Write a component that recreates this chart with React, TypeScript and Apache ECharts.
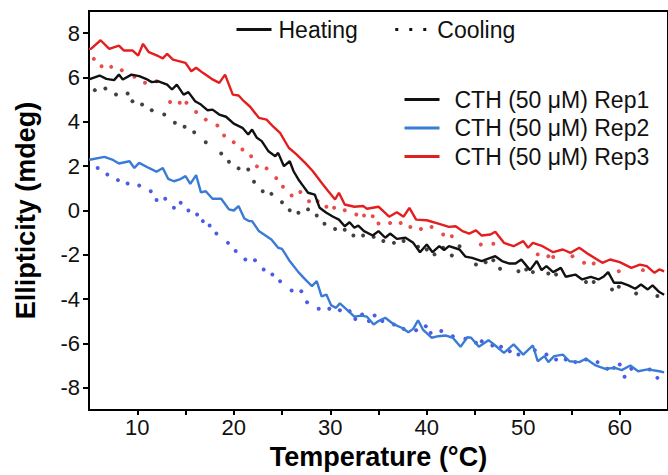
import React, { useEffect, useRef } from "react";
import * as echarts from "echarts";

// ---------- data ----------
const repNames = ["CTH (50 μM) Rep1", "CTH (50 μM) Rep2", "CTH (50 μM) Rep3"];
const styleNames = ["Heating", "Cooling"];

const xTickValues = [10, 15, 20, 25, 30, 35, 40, 45, 50, 55, 60];
const xLabelValues = [10, 20, 30, 40, 50, 60];
const yTickValues = [-8, -6, -4, -2, 0, 2, 4, 6, 8];

// Heating (solid lines), [temperature °C, ellipticity mdeg]
const rep1Heating: [number, number][] = [
  [5.0, 5.91], [6.1, 6.09], [6.8, 5.94], [7.6, 5.88], [8.1, 6.13], [8.5, 5.91], [9.4, 6.13], [10.2, 6.06],
  [10.9, 5.94], [11.5, 5.79], [12.2, 5.83], [13.1, 5.68], [13.6, 5.46], [14.1, 5.68], [14.8, 5.23], [15.3, 5.34],
  [16.0, 4.93], [16.6, 4.78], [17.3, 4.52], [17.8, 4.55], [18.5, 4.33], [19.2, 4.23], [20.0, 3.92], [20.9, 3.73],
  [21.5, 3.43], [21.9, 3.65], [22.4, 3.28], [22.9, 3.13], [23.6, 2.67], [24.3, 2.45], [24.6, 2.6], [25.2, 2.0],
  [25.8, 2.22], [26.2, 1.77], [26.7, 1.4], [27.2, 1.1], [27.7, 0.8], [28.4, 0.72], [28.9, 0.12], [29.6, -0.1],
  [30.3, -0.28], [30.9, -0.41], [31.5, -0.71], [32.0, -0.53], [32.5, -0.78], [32.9, -0.68], [33.5, -0.93],
  [34.4, -1.13], [35.0, -0.93], [35.7, -1.23], [36.2, -1.04], [36.9, -1.28], [37.8, -1.23], [38.6, -1.46],
  [39.3, -1.88], [40.0, -1.53], [40.6, -1.88], [41.3, -1.61], [41.8, -1.79], [42.3, -1.61], [43.4, -1.76],
  [44.0, -2.08], [44.7, -2.14], [45.7, -2.28], [46.3, -2.18], [47.1, -2.06], [47.8, -2.28], [48.5, -2.39],
  [49.2, -2.39], [49.8, -2.21], [50.7, -2.69], [51.4, -2.28], [51.9, -2.69], [52.4, -2.51], [53.1, -2.78],
  [53.9, -2.59], [54.4, -2.99], [55.4, -2.89], [56.1, -3.11], [57.0, -2.99], [57.8, -3.11], [58.3, -2.99],
  [58.8, -2.78], [59.4, -3.26], [60.2, -3.26], [60.9, -3.38], [61.6, -3.53], [62.2, -3.34], [62.9, -3.56],
  [63.4, -3.38], [64.1, -3.68], [64.6, -3.8],
];

const rep2Heating: [number, number][] = [
  [5.0, 2.3], [5.2, 2.3], [6.6, 2.42], [7.4, 2.3], [8.1, 2.12], [9.2, 2.22], [9.7, 1.92], [10.2, 2.15],
  [11.2, 1.92], [12.0, 1.75], [12.65, 1.92], [13.2, 1.43], [13.8, 1.32], [14.4, 1.4], [15.0, 1.55], [15.5, 1.2],
  [16.1, 1.6], [16.6, 0.82], [17.1, 0.87], [17.8, 0.53], [18.7, 0.53], [19.5, 0.05], [20.0, 0.0], [20.5, 0.2],
  [21.1, -0.36], [21.6, -0.48], [21.9, -0.48], [22.6, -0.93], [23.4, -1.16], [23.9, -1.31], [24.6, -1.68],
  [25.0, -1.73], [25.8, -2.28], [26.7, -2.78], [27.4, -3.11], [28.1, -3.41], [28.6, -3.19], [29.1, -3.87],
  [29.6, -3.79], [30.1, -4.28], [30.6, -4.39], [31.0, -4.19], [31.6, -4.43], [32.5, -4.79], [33.2, -4.74],
  [33.8, -4.79], [34.5, -5.14], [35.0, -4.99], [35.7, -4.84], [36.6, -5.14], [37.4, -5.29], [38.1, -5.49],
  [38.6, -5.34], [39.1, -4.95], [39.6, -5.37], [40.5, -5.74], [41.2, -5.67], [42.0, -5.64], [42.7, -5.74],
  [43.5, -6.15], [44.2, -5.72], [44.6, -5.74], [45.4, -6.15], [46.4, -5.85], [47.1, -6.09], [48.0, -6.42],
  [49.0, -6.04], [50.0, -6.5], [51.0, -6.09], [51.5, -6.8], [52.2, -6.57], [52.6, -6.84], [53.2, -6.57],
  [54.1, -6.5], [54.8, -6.8], [55.8, -6.84], [56.5, -6.69], [57.5, -6.99], [58.5, -7.14], [59.5, -7.1],
  [60.2, -7.2], [61.1, -6.99], [61.9, -7.25], [62.9, -7.17], [64.1, -7.25], [64.6, -7.3],
];

const rep3Heating: [number, number][] = [
  [5.0, 7.29], [5.2, 7.29], [6.2, 7.68], [7.1, 7.29], [8.1, 7.44], [8.6, 7.22], [9.5, 7.22], [10.1, 6.99],
  [10.6, 7.52], [11.2, 7.14], [12.2, 6.96], [12.65, 6.86], [13.1, 7.07], [13.7, 6.81], [14.4, 6.73], [15.0, 6.66],
  [15.6, 6.28], [16.1, 6.44], [16.8, 6.21], [17.7, 5.94], [18.5, 5.76], [19.1, 6.13], [19.9, 5.23], [20.5, 5.19],
  [21.05, 4.93], [21.7, 4.68], [22.6, 4.18], [23.4, 4.1], [24.1, 3.78], [24.8, 3.5], [25.7, 2.83], [26.5, 2.53],
  [27.4, 2.15], [28.2, 1.77], [29.1, 1.25], [29.8, 0.87], [30.5, 0.5], [30.9, 0.8], [31.5, 0.27], [32.5, 0.17],
  [33.4, 0.2], [33.8, 0.08], [35.0, 0.17], [36.1, -0.28], [36.9, -0.08], [37.6, -0.28], [38.2, 0.12],
  [38.9, -0.41], [40.0, -0.44], [41.2, -0.59], [42.3, -0.74], [43.0, -0.71], [43.7, -0.93], [44.4, -1.04],
  [45.1, -0.9], [45.7, -1.13], [46.6, -1.08], [47.1, -0.96], [48.0, -1.46], [49.0, -1.61], [50.0, -1.38],
  [50.5, -1.68], [51.0, -1.46], [52.0, -1.61], [53.1, -1.88], [54.1, -1.76], [54.9, -1.91], [55.8, -1.68],
  [56.8, -1.98], [58.2, -2.36], [59.0, -2.21], [60.0, -2.33], [61.2, -2.59], [62.1, -2.44], [62.8, -2.51],
  [63.6, -2.81], [64.1, -2.66], [64.6, -2.75],
];

// Cooling (dotted), [temperature °C, ellipticity mdeg]
const rep1Cooling: [number, number][] = [
  [5.6, 5.43], [6.7, 5.5], [7.8, 5.23], [9.0, 5.28], [9.5, 4.93], [10.5, 4.78], [11.5, 4.52], [12.8, 4.33],
  [13.9, 3.96], [14.9, 3.78], [15.9, 3.53], [17.1, 3.08], [18.7, 2.57], [19.5, 2.2], [20.5, 1.9], [21.5, 1.85],
  [22.1, 1.3], [23.0, 0.87], [23.9, 0.75], [25.0, 0.37], [25.8, 0.01], [26.7, -0.1], [27.7, 0.05], [28.6, -0.23],
  [29.4, -0.6], [30.5, -0.83], [31.5, -0.87], [32.4, -1.13], [33.4, -1.13], [34.5, -1.19], [35.5, -1.38],
  [36.6, -1.46], [37.6, -1.38], [39.1, -1.64], [40.0, -1.76], [40.8, -1.98], [41.7, -1.68], [42.6, -2.03],
  [43.4, -1.61], [45.1, -2.44], [46.1, -2.33], [46.9, -2.24], [47.6, -2.63], [49.5, -2.74], [50.3, -2.66],
  [51.0, -2.78], [52.6, -2.84], [53.4, -2.89], [56.5, -3.23], [57.3, -3.23], [59.2, -3.56], [59.9, -3.44],
  [61.7, -3.74], [63.9, -3.86],
];

const rep2Cooling: [number, number][] = [
  [5.9, 1.92], [6.9, 1.62], [8.0, 1.37], [9.0, 1.22], [10.2, 1.13], [11.4, 0.87], [12.0, 0.47], [12.9, 0.53],
  [13.8, 0.12], [14.5, 0.35], [15.3, 0.0], [16.2, -0.18], [16.8, -0.48], [17.5, -0.68], [18.2, -1.04],
  [19.4, -1.46], [20.2, -1.83], [21.2, -2.21], [22.2, -2.24], [23.1, -2.66], [24.0, -2.89], [24.8, -3.19],
  [26.0, -3.61], [27.0, -3.64], [27.6, -4.14], [28.8, -4.43], [29.9, -4.43], [31.0, -4.5], [32.0, -4.54],
  [32.6, -4.89], [33.3, -4.69], [34.0, -4.99], [34.6, -4.74], [35.4, -4.99], [36.6, -5.14], [37.6, -5.34],
  [38.9, -5.4], [39.9, -5.22], [40.4, -5.52], [41.5, -5.44], [42.7, -5.67], [44.0, -5.79], [45.1, -5.97],
  [45.7, -5.9], [46.8, -6.09], [47.7, -6.15], [48.6, -6.35], [49.5, -6.5], [51.2, -6.3], [52.4, -6.5],
  [53.4, -6.72], [54.4, -6.72], [55.4, -6.84], [56.5, -6.72], [57.7, -6.84], [58.7, -7.14], [59.4, -7.1],
  [60.0, -6.95], [60.5, -7.5], [61.2, -7.14], [63.1, -7.17], [63.9, -7.55],
];

const rep3Cooling: [number, number][] = [
  [5.5, 6.84], [6.3, 6.51], [7.3, 6.48], [8.4, 6.33], [9.7, 6.03], [10.8, 5.76], [12.0, 5.83], [13.4, 4.89],
  [14.4, 4.86], [15.1, 4.86], [16.1, 4.44], [17.1, 4.1], [18.3, 3.83], [19.0, 3.38], [20.0, 3.08], [20.9, 2.75],
  [21.8, 2.45], [22.4, 1.99], [23.4, 1.9], [24.4, 1.46], [25.1, 1.07], [26.0, 0.68], [26.9, 0.83], [27.8, 0.42],
  [28.7, 0.42], [29.6, 0.17], [30.4, 0.12], [31.5, 0.01], [32.7, -0.18], [33.5, -0.23], [34.4, -0.26],
  [35.0, -0.59], [36.2, -0.56], [37.3, -0.56], [38.3, -0.74], [39.4, -0.83], [40.5, -0.74], [41.7, -1.08],
  [42.6, -1.16], [45.6, -1.53], [46.9, -1.5], [51.5, -1.98], [52.6, -2.06], [53.1, -2.1], [55.1, -2.06],
  [56.3, -2.36], [57.3, -2.39], [59.9, -2.74], [62.4, -2.69],
];

const heatingColors = ["#111111", "#3a7bd5", "#e41e1e"];
const coolingColors = ["#111111", "#1e32e0", "#e41e1e"];

const FONT = "'Liberation Sans', Arial, Helvetica, sans-serif";

export default function App() {
  const ref = useRef<HTMLDivElement>(null);

  useEffect(() => {
    if (!ref.current) return;
    const chart = echarts.init(ref.current, undefined, { renderer: "svg" });
    const heating = [rep1Heating, rep2Heating, rep3Heating];
    const cooling = [rep1Cooling, rep2Cooling, rep3Cooling];

    const series: any[] = [
      {
        name: styleNames[0],
        type: "line",
        data: [],
        symbol: "none",
        itemStyle: { color: "#111" },
        lineStyle: { color: "#111", width: 3 },
      },
      {
        name: styleNames[1],
        type: "line",
        data: [],
        symbol: "none",
        itemStyle: { color: "#111" },
        lineStyle: { color: "#111", width: 3, type: [3, 11] },
      },
    ];
    cooling.forEach((d, i) => {
      series.push({
        name: repNames[i] + " cooling",
        type: "scatter",
        data: d,
        symbol: "circle",
        symbolSize: 4,
        itemStyle: { color: coolingColors[i] },
        z: 2,
      });
    });
    heating.forEach((d, i) => {
      series.push({
        name: repNames[i],
        type: "line",
        data: d,
        symbol: "none",
        showSymbol: false,
        itemStyle: { color: heatingColors[i] },
        lineStyle: { color: heatingColors[i], width: 2.4 },
        z: 3,
      });
    });

    chart.setOption({
      animation: false,
      backgroundColor: "#ffffff",
      textStyle: { fontFamily: FONT },
      grid: {
        left: 89,
        top: 11,
        width: 588,
        height: 400,
        show: true,
        borderColor: "#000",
        borderWidth: 2,
        backgroundColor: "transparent",
      },
      legend: [
        {
          data: styleNames,
          orient: "horizontal",
          left: 235,
          top: 18,
          padding: 0,
          itemWidth: 35,
          itemHeight: 14,
          itemGap: 36,
          selectedMode: false,
          itemStyle: { opacity: 0 },
          lineStyle: { width: 3 },
          textStyle: { fontSize: 23, color: "#111", fontFamily: FONT, padding: [0, 0, 0, 2] },
        },
        {
          data: repNames,
          orient: "vertical",
          left: 403,
          top: 88,
          padding: 0,
          itemWidth: 35,
          itemHeight: 14,
          itemGap: 5.5,
          selectedMode: false,
          itemStyle: { opacity: 0 },
          lineStyle: { width: 3 },
          textStyle: { fontSize: 23, color: "#111", fontFamily: FONT, padding: [0, 0, 0, 10] },
        },
      ],
      xAxis: {
        type: "value",
        min: 5,
        max: 65,
        interval: 5,
        name: "Temperature (°C)",
        nameLocation: "middle",
        nameGap: 33,
        nameTextStyle: { fontSize: 27, fontWeight: "bold", color: "#000", fontFamily: FONT },
        axisLine: { show: true, onZero: false, lineStyle: { color: "#000", width: 2 } },
        axisTick: { show: true, inside: false, length: 5, customValues: xTickValues, lineStyle: { color: "#000", width: 2 } },
        axisLabel: { fontSize: 22, color: "#111", margin: 6, customValues: xLabelValues, fontFamily: FONT },
        splitLine: { show: false },
      },
      yAxis: {
        type: "value",
        min: -9,
        max: 9,
        name: "Ellipticity (mdeg)",
        nameLocation: "middle",
        nameGap: 50,
        nameTextStyle: { fontSize: 27, fontWeight: "bold", color: "#000", fontFamily: FONT },
        axisLine: { show: true, onZero: false, lineStyle: { color: "#000", width: 2 } },
        axisTick: { show: true, inside: false, length: 6, customValues: yTickValues, lineStyle: { color: "#000", width: 2 } },
        axisLabel: { fontSize: 22, color: "#111", margin: 9, customValues: yTickValues, fontFamily: FONT },
        splitLine: { show: false },
      },
      series,
    });
    return () => chart.dispose();
  }, []);

  return (
    <div
      ref={ref}
      style={{ position: "fixed", left: 0, top: 0, width: 668, height: 475, background: "#fff" }}
    />
  );
}
